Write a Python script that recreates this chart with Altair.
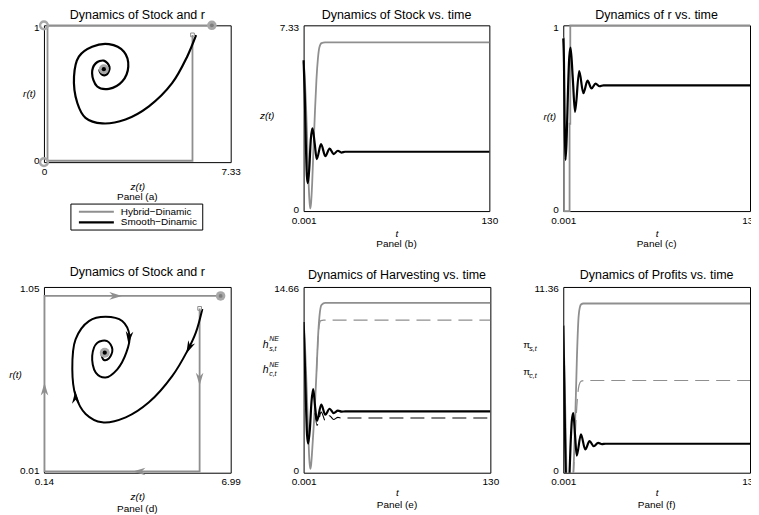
import altair as alt
import pandas as pd

FONT = "Liberation Sans"
GRAY = "#8f8f8f"
LGRAY = "#a8a8a8"
BLACK = "#000000"

# ---------------- Panel (a): phase plane z(t) vs r(t) ----------------
a_xdom = [0, 7.33]
a_ydom = [0, 1]
a_hyb_z = [5.83, 5.83, 0.14, 0.14, 6.59]
a_hyb_r = [0.93, 0.01, 0.01, 1.0, 1.0]
a_smo_z = [5.97, 5.62, 5.03, 4.12, 3.20, 2.29, 1.63, 1.31, 1.18, 1.37, 1.89, 2.55, 3.14,
           3.31, 3.07, 2.55, 2.09, 1.89, 2.03, 2.35, 2.57, 2.48, 2.29, 2.18, 2.35]
a_smo_r = [0.928, 0.771, 0.577, 0.408, 0.312, 0.283, 0.324, 0.432, 0.626, 0.771, 0.843, 0.862, 0.807,
           0.698, 0.589, 0.536, 0.553, 0.650, 0.722, 0.742, 0.698, 0.643, 0.638, 0.674, 0.679]
a_ring_z = [0.0, 0.0]
a_ring_r = [1.0, 0.0]
a_end_z = [6.59]
a_end_r = [1.0]
a_eq_z = [2.35]
a_eq_r = [0.679]
a_start_z = [5.83]
a_start_r = [0.93]

# ---------------- Panel (d): phase plane with arrows ----------------
d_xdom = [0.14, 6.99]
d_ydom = [0.01, 1.05]
d_hyb_z = [5.85, 5.85, 0.16, 0.16, 6.62]
d_hyb_r = [0.93, 0.017, 0.017, 1.0, 1.0]
d_smo_z = [5.95, 5.71, 5.40, 4.85, 3.99, 3.14, 2.28, 1.67, 1.30, 1.18, 1.30, 1.79, 2.40, 3.01,
           3.28, 3.16, 2.83, 2.40, 2.04, 1.91, 2.10, 2.46, 2.65, 2.52, 2.34, 2.26, 2.37]
d_smo_r = [0.927, 0.794, 0.692, 0.552, 0.404, 0.320, 0.292, 0.339, 0.441, 0.589, 0.757, 0.859, 0.883, 0.859,
           0.775, 0.682, 0.589, 0.543, 0.571, 0.664, 0.738, 0.747, 0.701, 0.649, 0.641, 0.673, 0.682]
d_end_z = [6.62]
d_end_r = [1.0]
d_eq_z = [2.37]
d_eq_r = [0.682]
d_start_z = [5.85]
d_start_r = [0.93]
d_arrow_z = [2.77, 5.85, 3.63, 0.16, 5.46, 3.26, 1.30]
d_arrow_r = [1.0, 0.534, 0.017, 0.478, 0.71, 0.766, 0.432]
d_arrow_dir = [270, 0, 90, 180, 25, 5, 178]
d_arrow_col = [GRAY, GRAY, GRAY, GRAY, BLACK, BLACK, BLACK]

# ---------------- Panel (b): stock vs time ----------------
t_dom = [0.001, 130]
b_ydom = [0, 7.33]
b_hyb_t = [0.001, 0.8, 1.6, 2.4, 3.2, 4.0, 4.6, 5.2, 6.0, 7.0, 8.0, 9.0, 10.0, 11.0, 12.5, 15, 130]
b_hyb_z = [5.9, 5.3, 4.3, 3.0, 1.6, 0.5, 0.1, 0.3, 1.1, 2.6, 4.0, 5.2, 6.0, 6.45, 6.63, 6.66, 6.66]
b_smo_t = [0.001, 0.8, 1.6, 2.3, 3.0, 4.0, 5.0, 6.2, 7.7, 9.2, 12.2, 15.2, 18.2, 21.0, 24.0, 26.5, 29.0, 130]
b_smo_z = [5.95, 4.6, 2.6, 1.4, 1.1, 1.7, 2.8, 3.26, 2.7, 2.05, 2.64, 2.17, 2.47, 2.25, 2.38, 2.31, 2.34, 2.34]

# ---------------- Panel (c): r vs time ----------------
c_ydom = [0, 1]
c_hyb_t = [0.001, 0.6, 0.6, 4.4, 4.4, 4.9, 4.9, 130]
c_hyb_r = [0.93, 0.93, 0.0, 0.0, 0.47, 0.47, 1.0, 1.0]
c_smo_t = [0.001, 0.5, 1.0, 1.6, 2.4, 3.3, 4.2, 5.1, 6.6, 8.2, 11.1, 14.0, 16.9, 19.7, 22.5, 25.3, 28.0, 130]
c_smo_r = [0.93, 0.8, 0.45, 0.276, 0.4, 0.65, 0.83, 0.88, 0.72, 0.534, 0.754, 0.635, 0.702, 0.66, 0.686, 0.672, 0.677, 0.677]

# ---------------- Panel (e): harvesting vs time ----------------
e_ydom = [0, 14.66]
e_hyb_t = [0.001, 0.8, 1.6, 2.4, 3.2, 4.0, 4.6, 5.2, 6.0, 7.0, 8.0, 9.0, 10.0, 11.0, 12.5, 15, 130]
e_hyb_h = [11.9, 10.5, 8.3, 5.8, 3.2, 1.0, 0.3, 0.6, 1.8, 3.6, 5.6, 8.0, 10.6, 12.3, 13.25, 13.4, 13.4]
e_hybc_t = [9.0, 10.0, 10.8, 12.0, 14.0, 130]
e_hybc_h = [8.0, 10.4, 11.6, 12.0, 12.04, 12.04]
e_smo_t = [0.001, 0.8, 1.6, 2.4, 3.2, 4.4, 5.5, 6.7, 8.0, 9.3, 12.3, 15.1, 18.1, 20.9, 23.9, 26.5, 29.0, 130]
e_smo_h = [11.9, 9.0, 5.6, 3.0, 2.3, 3.5, 5.6, 6.6, 5.2, 4.1, 5.37, 4.58, 5.05, 4.71, 4.9, 4.82, 4.84, 4.84]
e_smoc_t = [8.0, 9.3, 12.3, 15.1, 18.1, 20.9, 23.9, 26.5, 29.0, 130]
e_smoc_h = [4.7, 3.74, 4.78, 4.1, 4.5, 4.2, 4.37, 4.3, 4.32, 4.32]

# ---------------- Panel (f): profits vs time ----------------
f_ydom = [0, 11.36]
f_hyb_t = [0.001, 0.8, 1.6, 2.4, 3.5, 5.5, 6.8, 7.5, 8.5, 9.5, 10.5, 11.5, 12.5, 14, 130]
f_hyb_p = [9.0, 6.5, 3.0, -0.5, -3.0, -3.0, -0.5, 1.0, 3.8, 7.0, 9.3, 10.1, 10.3, 10.35, 10.35]
f_hybc_t = [7.0, 8.0, 9.0, 10.0, 11.0, 12.5, 15, 130]
f_hybc_p = [-0.2, 1.6, 3.4, 4.7, 5.35, 5.6, 5.64, 5.64]
f_smo_t = [0.001, 0.7, 1.4, 2.0, 3.0, 4.0, 5.0, 6.0, 7.0, 8.2, 9.4, 12.3, 15.3, 18.3, 21.3, 24.3, 27.0, 29.5, 130]
f_smo_p = [9.0, 5.5, 1.5, -1.0, -3.0, -1.0, 1.5, 3.2, 3.65, 2.3, 1.05, 2.35, 1.42, 1.93, 1.62, 1.83, 1.75, 1.77, 1.77]

legend_labels = ["Hybrid\u2212Dinamic", "Smooth\u2212Dinamic"]
titles = ["Dynamics of Stock and r", "Dynamics of Stock vs. time", "Dynamics of r vs. time",
          "Dynamics of Stock and r", "Dynamics of Harvesting vs. time", "Dynamics of Profits vs. time"]

ARROW = "M0,1L-0.6,-1L0,-0.4L0.6,-1Z"


def axes(xdom, ydom, xtitle, ytitle, W, H, ytx, yty, xty=23):
    X = alt.X("x:Q", scale=alt.Scale(domain=xdom, nice=False, zero=False),
              axis=alt.Axis(values=xdom, format=".3~f", title=xtitle, titleFontStyle="italic",
                            titleY=xty, titleBaseline="middle", titleX=W / 2))
    if ytitle is None:
        yax = alt.Axis(values=ydom, format=".3~f", title=None)
    else:
        yax = alt.Axis(values=ydom, format=".3~f", title=ytitle, titleFontStyle="italic",
                       titleAngle=0, titleX=ytx, titleY=yty, titleAlign="center",
                       titleBaseline="middle")
    Y = alt.Y("y:Q", scale=alt.Scale(domain=ydom, nice=False, zero=False), axis=yax)
    return X, Y


def line(xs, ys, X, Y, color, width, dash=None, interp="monotone", clip=False):
    df = pd.DataFrame({"x": xs, "y": ys, "i": list(range(len(xs)))})
    kw = dict(color=color, strokeWidth=width, interpolate=interp, clip=clip)
    if dash is not None:
        kw["strokeDash"] = dash
    return alt.Chart(df).mark_line(**kw).encode(x=X, y=Y, order="i:Q")


def pts(xs, ys, X, Y, **kw):
    df = pd.DataFrame({"x": xs, "y": ys})
    return alt.Chart(df).mark_point(opacity=1, **kw).encode(x=X, y=Y)


def txt(s, x, y, size=10, style="normal", align="center", baseline="middle"):
    return alt.Chart(pd.DataFrame({"s": [s]})).mark_text(
        font=FONT, fontSize=size, fontStyle=style, align=align, baseline=baseline, color="black"
    ).encode(x=alt.value(x), y=alt.value(y), text="s:N")


def panel(layers, W, H, title, ty):
    head = txt(title, W / 2, ty, size=12.5, baseline="alphabetic")
    return alt.layer(*layers, head).properties(width=W, height=H)


W = 187
H = 186

# ---- (a)
Wa, Ha = 187, 137
X, Y = axes(a_xdom, a_ydom, "z(t)", "r(t)", Wa, Ha, -15, Ha / 2, xty=24)
leg_box = alt.Chart(pd.DataFrame({"k": [0]})).mark_rect(fill="white", stroke="black", strokeWidth=1).encode(
    x=alt.value(27), x2=alt.value(159), y=alt.value(179), y2=alt.value(205))
leg_l1 = alt.Chart(pd.DataFrame({"k": [0]})).mark_rule(color=GRAY, strokeWidth=1.8).encode(
    x=alt.value(35), x2=alt.value(70), y=alt.value(186.7))
leg_l2 = alt.Chart(pd.DataFrame({"k": [0]})).mark_rule(color=BLACK, strokeWidth=2.2).encode(
    x=alt.value(35), x2=alt.value(70), y=alt.value(197.3))
pa = panel([
    line(a_hyb_z, a_hyb_r, X, Y, GRAY, 1.8, interp="linear"),
    line(a_smo_z, a_smo_r, X, Y, BLACK, 2.2, interp="catmull-rom"),
    pts(a_ring_z, a_ring_r, X, Y, shape="circle", filled=False, color=LGRAY, strokeWidth=2.4, size=60),
    pts(a_end_z, a_end_r, X, Y, shape="circle", filled=True, color=LGRAY, size=90),
    pts(a_end_z, a_end_r, X, Y, shape="circle", filled=True, color="#7d7d7d", size=15),
    pts(a_eq_z, a_eq_r, X, Y, shape="circle", filled=True, color=LGRAY, size=100),
    pts(a_eq_z, a_eq_r, X, Y, shape="circle", filled=True, color=BLACK, size=18),
    pts(a_start_z, a_start_r, X, Y, shape="square", filled=False, color=GRAY, strokeWidth=1, size=14),
    txt("Panel (a)", Wa / 2, Ha + 35),
    leg_box, leg_l1, leg_l2,
    txt(legend_labels[0], 77, 186.7, align="left"),
    txt(legend_labels[1], 77, 197.3, align="left"),
], Wa, Ha, titles[0], -6.5)

# ---- (b)
X, Y = axes(t_dom, b_ydom, "t", "z(t)", 186, H, -37, 90, xty=22)
pb = panel([
    line(b_hyb_t, b_hyb_z, X, Y, GRAY, 1.8),
    line(b_smo_t, b_smo_z, X, Y, BLACK, 2.2),
    txt("Panel (b)", 93, H + 33),
], 186, H, titles[1], -6.5)

# ---- (c)
X, Y = axes(t_dom, c_ydom, "t", "r(t)", W, H, -14, 91, xty=22)
pc = panel([
    line(c_hyb_t, c_hyb_r, X, Y, GRAY, 1.8, interp="linear"),
    line(c_smo_t, c_smo_r, X, Y, BLACK, 2.2),
    txt("Panel (c)", W / 2, H + 33),
], W, H, titles[2], -6.5)

# ---- (d)
X, Y = axes(d_xdom, d_ydom, "z(t)", "r(t)", W, H, -29, 88, xty=24)
arr_df = pd.DataFrame({"x": d_arrow_z, "y": d_arrow_r, "a": d_arrow_dir, "c": d_arrow_col})
arrows = alt.Chart(arr_df).mark_point(shape=ARROW, filled=True, opacity=1, size=160, strokeWidth=0).encode(
    x=X, y=Y, angle=alt.Angle("a:Q", scale=None), color=alt.Color("c:N", scale=None))
pd_ = panel([
    line(d_hyb_z, d_hyb_r, X, Y, GRAY, 1.8, interp="linear"),
    line(d_smo_z, d_smo_r, X, Y, BLACK, 2.0, interp="catmull-rom"),
    arrows,
    pts(d_end_z, d_end_r, X, Y, shape="circle", filled=True, color=LGRAY, size=90),
    pts(d_end_z, d_end_r, X, Y, shape="circle", filled=True, color="#7d7d7d", size=15),
    pts(d_eq_z, d_eq_r, X, Y, shape="circle", filled=True, color=LGRAY, size=100),
    pts(d_eq_z, d_eq_r, X, Y, shape="circle", filled=True, color=BLACK, size=18),
    pts(d_start_z, d_start_r, X, Y, shape="square", filled=False, color=GRAY, strokeWidth=1, size=14),
    txt("Panel (d)", W / 2, H + 36),
], W, H, titles[3], -11.3)

# ---- (e)
X, Y = axes(t_dom, e_ydom, "t", None, W, H, 0, 0, xty=20)
pe = panel([
    line(e_hyb_t, e_hyb_h, X, Y, GRAY, 1.8, clip=True),
    line(e_hybc_t, e_hybc_h, X, Y, GRAY, 1.2, dash=[14, 7], clip=True),
    line(e_smoc_t, e_smoc_h, X, Y, BLACK, 1.1, dash=[14, 7], clip=True),
    line(e_smo_t, e_smo_h, X, Y, BLACK, 2.2, clip=True),
    txt("h", -41, 61, size=10.5, style="italic", align="left", baseline="alphabetic"),
    txt("NE", -34.5, 54.5, size=7, style="italic", align="left", baseline="alphabetic"),
    txt("s,t", -34.5, 64, size=7, style="italic", align="left", baseline="alphabetic"),
    txt("h", -41, 86.5, size=10.5, style="italic", align="left", baseline="alphabetic"),
    txt("NE", -34.5, 80, size=7, style="italic", align="left", baseline="alphabetic"),
    txt("c,t", -34.5, 89.5, size=7, style="italic", align="left", baseline="alphabetic"),
    txt("Panel (e)", W / 2, H + 32),
], W, H, titles[4], -7.7)

# ---- (f)
X, Y = axes(t_dom, f_ydom, "t", None, W, H, 0, 0, xty=20)
pf = panel([
    line(f_hyb_t, f_hyb_p, X, Y, GRAY, 1.8, clip=True),
    line(f_hybc_t, f_hybc_p, X, Y, GRAY, 1.2, dash=[14, 7], clip=True),
    line(f_smo_t, f_smo_p, X, Y, BLACK, 2.2, clip=True),
    txt("\u03c0", -40, 61.5, size=10, align="left", baseline="alphabetic"),
    txt("s,t", -34, 64.5, size=7, style="italic", align="left", baseline="alphabetic"),
    txt("\u03c0", -40, 88.5, size=10, align="left", baseline="alphabetic"),
    txt("c,t", -34, 91.5, size=7, style="italic", align="left", baseline="alphabetic"),
    txt("Panel (f)", W / 2, H + 32),
], W, H, titles[5], -7.7)

chart = alt.concat(pa, pb, pc, pd_, pe, pf, columns=3,
                   spacing={"row": 76, "column": 73}, bounds="flush").properties(
    padding={"left": 0, "top": 0, "right": -8, "bottom": 0}
).configure_view(stroke="black", strokeWidth=1).configure_axis(
    ticks=False, domain=False, grid=False, labelFont=FONT, labelFontSize=10,
    labelColor="black", titleFont=FONT, titleFontSize=10, titleColor="black", titleFontWeight="normal"
).configure_axisX(labelPadding=4, labelFlush=False).configure_axisY(
    labelPadding=5, labelFlush=True, labelFlushOffset=3)

chart.save("out.html", embed_options={"renderer": "svg", "actions": False})
